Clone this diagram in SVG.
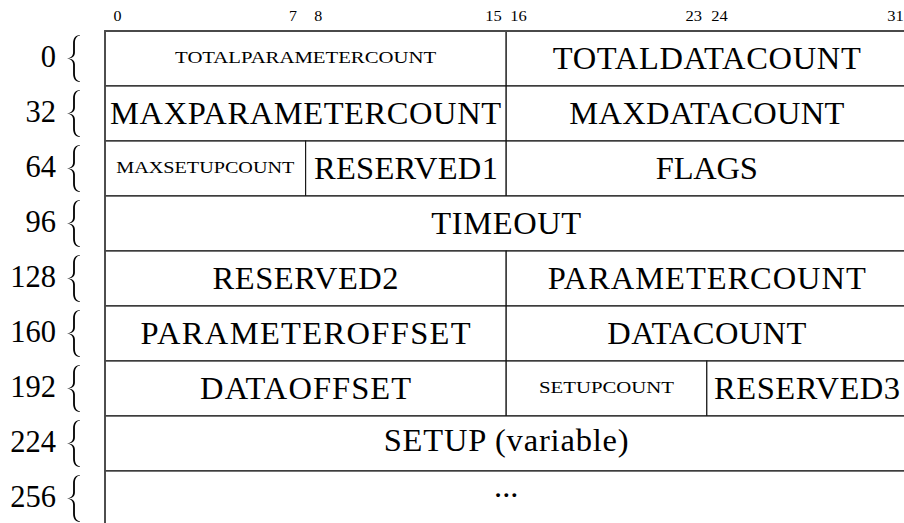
<svg xmlns="http://www.w3.org/2000/svg" width="904" height="523" viewBox="0 0 904 523">
  <style>
    .cell { fill: #ffffff; stroke: #1a1a1a; stroke-width: 1.2; }
    .big { font-family: "Liberation Serif", "Times New Roman", serif; font-size: 32.5px; fill: #000; text-anchor: middle; }
    .sc { font-family: "Liberation Serif", "Times New Roman", serif; font-size: 16px; fill: #000; text-anchor: middle; }
    .bit { font-family: "Liberation Serif", "Times New Roman", serif; font-size: 14px; fill: #000; text-anchor: middle; }
    .off { font-family: "Liberation Serif", "Times New Roman", serif; font-size: 30.5px; fill: #000; text-anchor: end; }
    .frame { fill: none; stroke: #4a4a4a; stroke-width: 1.8; }
    .brace { fill: #000; }
  </style>
  <defs>
    <!-- left curly brace, 47 px tall, centred on its origin -->
    <path id="lbrace" d="M 6.5,-23.5 C 1.5,-23 -0.4,-20 -0.4,-15 L -0.4,-6.5 C -0.4,-2.5 -2.5,-0.6 -6.5,0 C -2.5,0.6 -0.4,2.5 -0.4,6.5 L -0.4,15 C -0.4,20 1.5,23 6.5,23.5 L 6.5,22.9 C 3,22.3 1.4,19.5 1.4,15 L 1.4,6 C 1.4,2.2 -1,0.4 -5.5,0 C -1,-0.4 1.4,-2.2 1.4,-6 L 1.4,-15 C 1.4,-19.5 3,-22.3 6.5,-22.9 Z"/>
  </defs>
  <rect width="904" height="523" fill="#ffffff"/>

  <!-- bit numbers -->
  <g id="bit-header">
    <text class="bit" x="117.5" y="20.5" textLength="8" lengthAdjust="spacingAndGlyphs">0</text>
    <text class="bit" x="293" y="20.5" textLength="8" lengthAdjust="spacingAndGlyphs">7</text>
    <text class="bit" x="318.2" y="20.5" textLength="8" lengthAdjust="spacingAndGlyphs">8</text>
    <text class="bit" x="493.6" y="20.5" textLength="16.5" lengthAdjust="spacingAndGlyphs">15</text>
    <text class="bit" x="518.6" y="20.5" textLength="16.5" lengthAdjust="spacingAndGlyphs">16</text>
    <text class="bit" x="693.8" y="20.5" textLength="16.5" lengthAdjust="spacingAndGlyphs">23</text>
    <text class="bit" x="719.5" y="20.5" textLength="16.5" lengthAdjust="spacingAndGlyphs">24</text>
    <text class="bit" x="895.5" y="20.5" textLength="16.5" lengthAdjust="spacingAndGlyphs">31</text>
  </g>

  <!-- word offsets with braces -->
  <g id="offsets">
    <text class="off" x="56" y="67">0</text>
    <text class="off" x="56" y="122">32</text>
    <text class="off" x="56" y="177">64</text>
    <text class="off" x="56" y="232">96</text>
    <text class="off" x="56" y="287">128</text>
    <text class="off" x="56" y="342">160</text>
    <text class="off" x="56" y="397">192</text>
    <text class="off" x="56" y="452">224</text>
    <text class="off" x="56" y="507">256</text>
    <use href="#lbrace" class="brace" x="73.5" y="58.5"/>
    <use href="#lbrace" class="brace" x="73.5" y="113.5"/>
    <use href="#lbrace" class="brace" x="73.5" y="168.5"/>
    <use href="#lbrace" class="brace" x="73.5" y="223.5"/>
    <use href="#lbrace" class="brace" x="73.5" y="278.5"/>
    <use href="#lbrace" class="brace" x="73.5" y="333.5"/>
    <use href="#lbrace" class="brace" x="73.5" y="388.5"/>
    <use href="#lbrace" class="brace" x="73.5" y="443.5"/>
    <use href="#lbrace" class="brace" x="73.5" y="498.5"/>
  </g>

  <!-- word 0 -->
  <g id="totalparametercount">
    <rect class="cell" x="105" y="31" width="401.2" height="55"/>
    <text class="sc" x="305.6" y="63.3" textLength="261" lengthAdjust="spacingAndGlyphs">TOTALPARAMETERCOUNT</text>
  </g>
  <g id="totaldatacount">
    <rect class="cell" x="506.2" y="31" width="401.2" height="55"/>
    <text class="big" x="706.8" y="69.3" textLength="308" lengthAdjust="spacing">TOTALDATACOUNT</text>
  </g>

  <!-- word 32 -->
  <g id="maxparametercount">
    <rect class="cell" x="105" y="86" width="401.2" height="55"/>
    <text class="big" x="305.6" y="124" textLength="391" lengthAdjust="spacing">MAXPARAMETERCOUNT</text>
  </g>
  <g id="maxdatacount">
    <rect class="cell" x="506.2" y="86" width="401.2" height="55"/>
    <text class="big" x="706.8" y="124" textLength="275" lengthAdjust="spacing">MAXDATACOUNT</text>
  </g>

  <!-- word 64 -->
  <g id="maxsetupcount">
    <rect class="cell" x="105" y="141" width="200.6" height="55"/>
    <text class="sc" x="205.3" y="172.8" textLength="178" lengthAdjust="spacingAndGlyphs">MAXSETUPCOUNT</text>
  </g>
  <g id="reserved1">
    <rect class="cell" x="305.6" y="141" width="200.6" height="55"/>
    <text class="big" x="405.9" y="179.3" textLength="184" lengthAdjust="spacing">RESERVED1</text>
  </g>
  <g id="flags">
    <rect class="cell" x="506.2" y="141" width="401.2" height="55"/>
    <text class="big" x="706.8" y="179.3" textLength="102" lengthAdjust="spacing">FLAGS</text>
  </g>

  <!-- word 96 -->
  <g id="timeout">
    <rect class="cell" x="105" y="196" width="802.4" height="55"/>
    <text class="big" x="506.2" y="234.3" textLength="150" lengthAdjust="spacing">TIMEOUT</text>
  </g>

  <!-- word 128 -->
  <g id="reserved2">
    <rect class="cell" x="105" y="251" width="401.2" height="55"/>
    <text class="big" x="305.6" y="289.3" textLength="186" lengthAdjust="spacing">RESERVED2</text>
  </g>
  <g id="parametercount">
    <rect class="cell" x="506.2" y="251" width="401.2" height="55"/>
    <text class="big" x="706.8" y="289.3" textLength="318" lengthAdjust="spacing">PARAMETERCOUNT</text>
  </g>

  <!-- word 160 -->
  <g id="parameteroffset">
    <rect class="cell" x="105" y="306" width="401.2" height="55"/>
    <text class="big" x="305.6" y="344.3" textLength="330" lengthAdjust="spacing">PARAMETEROFFSET</text>
  </g>
  <g id="datacount">
    <rect class="cell" x="506.2" y="306" width="401.2" height="55"/>
    <text class="big" x="706.8" y="344.3" textLength="199" lengthAdjust="spacing">DATACOUNT</text>
  </g>

  <!-- word 192 -->
  <g id="dataoffset">
    <rect class="cell" x="105" y="361" width="401.2" height="55"/>
    <text class="big" x="305.6" y="399.3" textLength="211" lengthAdjust="spacing">DATAOFFSET</text>
  </g>
  <g id="setupcount">
    <rect class="cell" x="506.2" y="361" width="200.6" height="55"/>
    <text class="sc" x="606.5" y="392.8" textLength="135" lengthAdjust="spacingAndGlyphs">SETUPCOUNT</text>
  </g>
  <g id="reserved3">
    <rect class="cell" x="706.8" y="361" width="200.6" height="55"/>
    <text class="big" x="807.1" y="399.3" textLength="186" lengthAdjust="spacing">RESERVED3</text>
  </g>

  <!-- word 224 -->
  <g id="setup">
    <rect class="cell" x="105" y="416" width="802.4" height="55"/>
    <text class="big" x="506.2" y="451" textLength="245" lengthAdjust="spacing">SETUP (variable)</text>
  </g>

  <!-- word 256, open-ended -->
  <g id="more">
    <rect class="cell" x="105" y="471" width="802.4" height="70"/>
    <text class="big" x="506.2" y="496.5">...</text>
  </g>

  <!-- heavier outer edge along the top and left -->
  <g id="frame">
    <path class="frame" d="M 105,541 L 105,31 L 910,31"/>
  </g>
</svg>
